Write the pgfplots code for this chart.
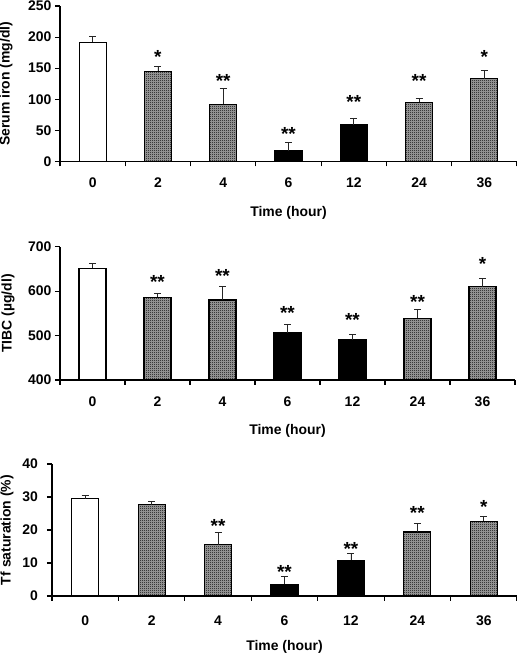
\documentclass[border=0pt]{standalone}
\usepackage{pgfplots}
\pgfplotsset{compat=1.18}
\usepackage{fontspec}
\setmainfont{Liberation Sans}
\usetikzlibrary{patterns}
\pgfdeclarepatternformonly{checker}{\pgfqpoint{0bp}{0bp}}{\pgfqpoint{2bp}{2bp}}{\pgfqpoint{2bp}{2bp}}{%
  \pgfpathrectangle{\pgfqpoint{0bp}{0bp}}{\pgfqpoint{1.05bp}{1.05bp}}%
  \pgfpathrectangle{\pgfqpoint{1bp}{1bp}}{\pgfqpoint{1.05bp}{1.05bp}}%
  \pgfusepath{fill}}
\pgfplotsset{
  panel/.style={
    scale only axis,
    xmin=-0.5, xmax=6.5,
    axis x line*=bottom, axis y line*=left,
    axis line style={line width=1.1bp},
    xtick={0,1,2,3,4,5,6},
    xticklabels={0,2,4,6,12,24,36},
    minor xtick={-0.5,0.5,1.5,2.5,3.5,4.5,5.5,6.5},
    major x tick style={draw=none},
    minor x tick style={line width=1.1bp, black},
    major y tick style={line width=1.1bp, black},
    tick align=outside,
    major tick length=5bp, minor tick length=5bp,
    /pgf/number format/assume math mode=true,
    ticklabel style={font=\bfseries\fontsize{14}{16}\selectfont},
    xlabel={Time (hour)},
    every axis x label/.style={at={(axis description cs:0.5,0)}, anchor=center, yshift=-51bp,
      font=\bfseries\fontsize{14}{16}\selectfont},
    ybar, bar width=27bp, bar shift=0pt,
    clip=false,
  },
  ylab/.style={every axis y label/.style={at={(axis description cs:#1,0.5)}, anchor=center, rotate=90,
      font=\bfseries\fontsize{14}{16}\selectfont}},
  errs/.style={error bars/.cd, y dir=plus, y explicit, error bar style={line width=0.8bp, black!85},
    error mark options={rotate=90, mark size=3.5bp, line width=0.8bp, black!85}},
  wbar/.style={draw=black, line width=1.1bp, fill=white, errs},
  gbar/.style={draw=black, line width=1.1bp, fill=black!35, postaction={pattern=checker}, errs},
  kbar/.style={draw=black, line width=1.1bp, fill=black, errs},
  star/.style={sharp plot, only marks, mark=text, text mark={*}, text mark as node=true,
    text mark style={font=\bfseries\fontsize{19}{20}\selectfont, yshift=-3.5bp, inner sep=0pt}},
  dstar/.style={sharp plot, only marks, mark=text, text mark={**}, text mark as node=true,
    text mark style={font=\bfseries\fontsize{19}{20}\selectfont, yshift=-3.5bp, inner sep=0pt}},
}
\begin{document}
\begin{tikzpicture}
\path[use as bounding box] (0,0) rectangle (517bp,655bp);
% Panel 1: Serum iron
\begin{axis}[panel, at={(60bp,493.5bp)}, anchor=south west,
  width=457bp, height=155.5bp,
  ymin=0, ymax=250, ytick={0,50,100,150,200,250},
  ylabel={Serum iron (mg/dl)}, ylab=-0.118,
  xticklabel style={yshift=-8bp}]
\addplot[wbar] coordinates {(0,192) +- (0,9)};
\addplot[gbar] coordinates {(1,145) +- (0,8) (2,92) +- (0,26) (5,95) +- (0,7) (6,133) +- (0,13)};
\addplot[kbar] coordinates {(3,17) +- (0,14) (4,59) +- (0,11)};
\addplot[star] coordinates {(1,174) (6,174)};
\addplot[dstar] coordinates {(2,134.5) (3,50) (4,101) (5,134.5)};
\end{axis}
% Panel 2: TIBC
\begin{axis}[panel, at={(60bp,275bp)}, anchor=south west,
  width=455bp, height=133.3bp,
  ymin=400, ymax=700, ytick={400,500,600,700},
  ylabel={TIBC (µg/dl)}, ylab=-0.114,
  xticklabel style={yshift=-8.3bp}]
\addplot[wbar] coordinates {(0,651) +- (0,11)};
\addplot[gbar] coordinates {(1,586) +- (0,8) (2,580) +- (0,31) (5,539) +- (0,20) (6,610) +- (0,18)};
\addplot[kbar] coordinates {(3,506) +- (0,18) (4,490) +- (0,12)};
\addplot[star] coordinates {(6,668.5)};
\addplot[dstar] coordinates {(1,628.75) (2,641.5) (3,559) (4,542.5) (5,583.75)};
\end{axis}
% Panel 3: Tf saturation
\begin{axis}[panel, at={(52bp,59bp)}, anchor=south west,
  width=465bp, height=132bp,
  ymin=0, ymax=40, ytick={0,10,20,30,40},
  ylabel={Tf saturation (\%)}, ylab=-0.097,
  yticklabel style={xshift=-5.5bp},
  xticklabel style={yshift=-11bp}]
\addplot[wbar] coordinates {(0,29.5) +- (0,1.1)};
\addplot[gbar] coordinates {(1,27.6) +- (0,1.0) (2,15.6) +- (0,3.7) (5,19.4) +- (0,2.6) (6,22.7) +- (0,1.5)};
\addplot[kbar] coordinates {(3,3.5) +- (0,2.5) (4,10.8) +- (0,2.2)};
\addplot[star] coordinates {(6,28.1)};
\addplot[dstar] coordinates {(2,22.2) (3,8.4) (4,15.2) (5,26.3)};
\end{axis}
\end{tikzpicture}
\end{document}
